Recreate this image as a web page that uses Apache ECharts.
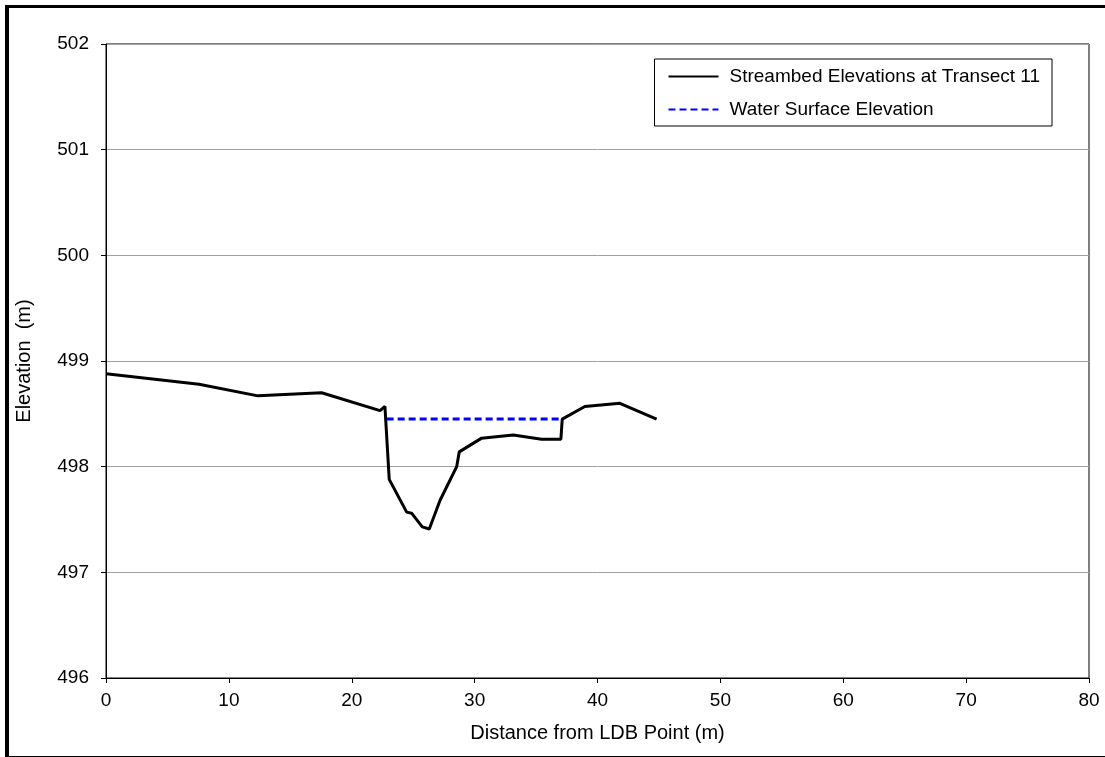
<!DOCTYPE html>
<html>
<head>
<meta charset="utf-8">
<script src="https://cdn.jsdelivr.net/npm/echarts@6/dist/echarts.min.js"></script>
<style>
html,body{margin:0;padding:0;background:#fff;}
#frame{position:absolute;left:5px;top:5px;width:1200px;height:748px;border-left:4px solid #000;border-top:3px solid #000;border-bottom:2px solid #000;}
#chart{position:absolute;left:0;top:0;width:1105px;height:757px;}
</style>
</head>
<body>
<div id="frame"></div>
<div id="chart"></div>
<script>
const streamX = [0, 7.57, 12.37, 17.55, 22.3, 22.7, 23.05, 24.47, 24.87, 25.74, 26.31, 27.18, 28.54, 28.75, 30.57, 33.14, 35.45, 37.02, 37.13, 38.97, 41.82, 44.81];
const streamY = [498.88, 498.78, 498.67, 498.70, 498.53, 498.57, 497.88, 497.57, 497.56, 497.43, 497.41, 497.68, 498.00, 498.14, 498.27, 498.30, 498.26, 498.26, 498.45, 498.57, 498.60, 498.45];
const waterX = [22.84, 37.13];
const waterY = [498.45, 498.45];
const seriesNames = ['Streambed Elevations at Transect 11', 'Water Surface Elevation'];
const xTitle = 'Distance from LDB Point (m)';
const yTitle = 'Elevation  (m)';

const FONT = '"Liberation Sans", Arial, sans-serif';
const FS = 19;
const chart = echarts.init(document.getElementById('chart'), null, {renderer: 'canvas'});
chart.setOption({
  animation: false,
  backgroundColor: 'transparent',
  textStyle: {fontFamily: FONT},
  grid: {left: 106, right: 16, top: 44, bottom: 79, show: true, borderColor: '#000', borderWidth: 1},
  legend: {
    orient: 'vertical', right: 53, top: 59, align: 'left',
    backgroundColor: '#fff', borderColor: '#000', borderWidth: 1,
    padding: [8, 12, 7, 13], itemGap: 14, itemWidth: 50, itemHeight: 14,
    itemStyle: {opacity: 0},
    textStyle: {fontFamily: FONT, fontSize: FS, color: '#000', padding: [0, 0, 0, 6]},
    data: seriesNames
  },
  xAxis: {
    type: 'value', min: 0, max: 80, interval: 10,
    name: xTitle, nameLocation: 'middle', nameGap: 45,
    nameTextStyle: {fontFamily: FONT, fontSize: 20, color: '#000'},
    axisLine: {show: true, lineStyle: {color: '#000', width: 1}},
    axisTick: {show: true, inside: false, length: 5, lineStyle: {color: '#000'}},
    axisLabel: {fontFamily: FONT, fontSize: FS, color: '#000', margin: 13},
    splitLine: {show: false}
  },
  yAxis: {
    type: 'value', min: 496, max: 502, interval: 1,
    name: yTitle, nameLocation: 'middle', nameGap: 72, nameRotate: 90,
    nameTextStyle: {fontFamily: FONT, fontSize: 20, color: '#000'},
    axisLine: {show: true, lineStyle: {color: '#000', width: 1}},
    axisTick: {show: true, inside: false, length: 5, lineStyle: {color: '#000'}},
    axisLabel: {fontFamily: FONT, fontSize: FS, color: '#000', margin: 17},
    splitLine: {show: true, lineStyle: {color: '#a0a0a0', width: 1}}
  },
  series: [
    {
      name: seriesNames[0], type: 'line', symbol: 'none',
      data: streamX.map((x, i) => [x, streamY[i]]),
      lineStyle: {color: '#000', width: 3}, itemStyle: {color: '#000'}
    },
    {
      name: seriesNames[1], type: 'line', symbol: 'none',
      data: waterX.map((x, i) => [x, waterY[i]]),
      lineStyle: {color: '#0000ff', width: 3, type: [7, 4]}, itemStyle: {color: '#0000ff'}
    }
  ]
});
</script>
</body>
</html>
